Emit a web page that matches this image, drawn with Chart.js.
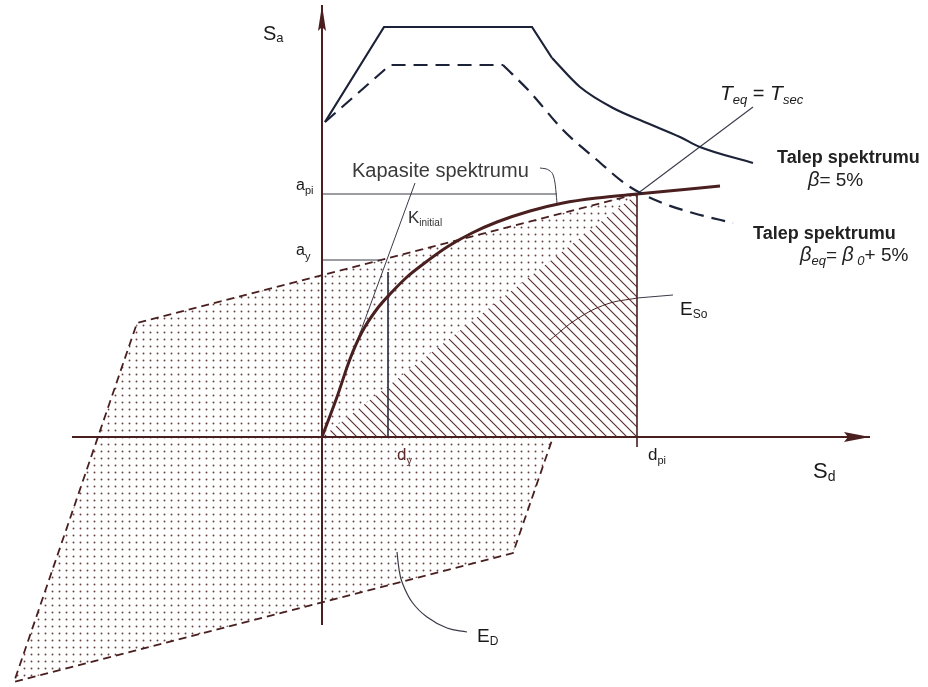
<!DOCTYPE html>
<html lang="tr">
<head>
<meta charset="UTF-8">
<title>Kapasite spektrumu</title>
<script src="https://cdn.jsdelivr.net/npm/chart.js"></script>
<style>
    html, body { margin: 0; padding: 0; background: #fff; }
    #wrap { width: 928px; height: 687px; }
</style>
</head>
<body>
<div id="wrap"><canvas id="spektrum"></canvas></div>
<script>
// Sd / Sa değerleri (birimsiz, şematik)
const talep5Sd = [0.03, 0.62, 2.10, 2.30];
const talep5Sa = [3.15, 4.10, 4.10, 3.79];
const talep5KuyrukSd = [2.30, 2.58, 2.91, 3.25, 3.58, 3.78, 4.31];
const talep5KuyrukSa = [3.79, 3.50, 3.29, 3.14, 3.00, 2.90, 2.74];

const talepEqSd = [0.03, 0.68, 1.81];
const talepEqSa = [3.15, 3.72, 3.72];
const talepEqKuyrukSd = [1.81, 2.08, 2.41, 2.75, 3.05, 3.38, 3.71, 4.11];
const talepEqKuyrukSa = [3.72, 3.45, 3.07, 2.77, 2.52, 2.35, 2.24, 2.14];

const kapasiteSd = [0, 0.15, 0.28, 0.40, 0.55, 0.70, 0.85, 1.00, 1.25, 1.50, 1.75, 2.08, 2.41, 2.75, 3.15, 3.98];
const kapasiteSa = [0, 0.40, 0.78, 1.05, 1.28, 1.45, 1.60, 1.72, 1.90, 2.04, 2.15, 2.26, 2.34, 2.39, 2.43, 2.51];

// performans noktası ve akma noktası
const dpi = 3.15, api = 2.43;
const dy = 0.66, ay = 1.77;

// histerezis çevrimi (E_D alanı)
const cevrimSd = [3.15, -1.85, -3.08, 1.91, 3.15];
const cevrimSa = [2.43, 1.14, -2.45, -1.16, 2.43];

// eksen uçları
const eksenX = [-2.50, 5.48];
const eksenY = [-1.88, 4.32];

const LACIVERT = '#1c2238';
const BORDO = '#4a1f1f';
const INCE = '#3a3a48';
const YAZI = '#1a1a1a';
const F = '"Liberation Sans"';

function noktalar(xs, ys) {
    return xs.map((x, i) => ({ x: x, y: ys[i] }));
}

function cizgi(xs, ys, renk, kalinlik, ek) {
    return Object.assign({
        data: noktalar(xs, ys),
        showLine: true,
        borderColor: renk,
        borderWidth: kalinlik,
        pointRadius: 0,
        fill: false,
        tension: 0,
        order: 0
    }, ek || {});
}

const egri = { tension: 0.4, cubicInterpolationMode: 'monotone' };

// nokta deseni
function noktaDeseni() {
    const c = document.createElement('canvas');
    c.width = 7; c.height = 7;
    const g = c.getContext('2d');
    g.fillStyle = 'rgba(85, 45, 45, 0.9)';
    g.beginPath();
    g.arc(3.5, 3.5, 0.95, 0, Math.PI * 2);
    g.fill();
    return g.createPattern(c, 'repeat');
}

// taralı desen (beyaz zemin, "\" yönünde)
function taramaDeseni() {
    const n = 10;
    const c = document.createElement('canvas');
    c.width = n; c.height = n;
    const g = c.getContext('2d');
    g.fillStyle = '#fff';
    g.fillRect(0, 0, n, n);
    g.strokeStyle = '#5a2a2a';
    g.lineWidth = 1.1;
    g.beginPath();
    g.moveTo(-1, -1); g.lineTo(n + 1, n + 1);
    g.moveTo(n - 1, -1); g.lineTo(n + 1, 1);
    g.moveTo(-1, n - 1); g.lineTo(1, n + 1);
    g.stroke();
    return g.createPattern(c, 'repeat');
}

// eksen okları
const oklar = {
    id: 'oklar',
    afterDatasetsDraw(chart) {
        const { ctx, scales: { x, y } } = chart;
        ctx.save();
        ctx.fillStyle = BORDO;
        const ux = x.getPixelForValue(eksenX[1]), uy = y.getPixelForValue(0);
        ctx.beginPath();
        ctx.moveTo(ux, uy);
        ctx.lineTo(ux - 26, uy - 5);
        ctx.lineTo(ux - 22, uy);
        ctx.lineTo(ux - 26, uy + 5);
        ctx.closePath();
        ctx.fill();
        const vx = x.getPixelForValue(0), vy = y.getPixelForValue(eksenY[1]);
        ctx.beginPath();
        ctx.moveTo(vx, vy);
        ctx.lineTo(vx - 4, vy + 26);
        ctx.lineTo(vx, vy + 22);
        ctx.lineTo(vx + 4, vy + 26);
        ctx.closePath();
        ctx.fill();
        ctx.restore();
    }
};

// etiketler: [metin, font, düşey kayma]
const etiketler = [
    { x: -0.59, y: 3.97, p: [['S', '20px ' + F, 0], ['a', '13px ' + F, 2]] },
    { x: 4.91, y: -0.41, p: [['S', '22px ' + F, 0], ['d', '14px ' + F, 3]] },
    { x: -0.26, y: 2.47, p: [['a', '16px ' + F, 0], ['pi', '11px ' + F, 4]] },
    { x: -0.26, y: 1.82, p: [['a', '16px ' + F, 0], ['y', '11px ' + F, 5]] },
    { x: 0.86, y: 2.14, p: [['K', '17px ' + F, 0], ['initial', '10px ' + F, 3]], renk: '#333' },
    { x: 0.30, y: 2.60, p: [['Kapasite spektrumu', '20px ' + F, 0]], renk: '#3a3a3a' },
    { x: 3.98, y: 3.37, p: [['T', 'italic 21px ' + F, 0], ['eq', 'italic 13px ' + F, 4], [' = ', '20px ' + F, 0], ['T', 'italic 21px ' + F, 0], ['sec', 'italic 13px ' + F, 4]] },
    { x: 4.55, y: 2.74, p: [['Talep spektrumu', 'bold 18px ' + F, 0]], renk: '#222' },
    { x: 4.86, y: 2.51, p: [['β', 'italic 20px ' + F, 0], ['= 5%', '19px ' + F, 0]], renk: '#222' },
    { x: 4.31, y: 1.98, p: [['Talep spektrumu', 'bold 18px ' + F, 0]], renk: '#222' },
    { x: 4.78, y: 1.76, p: [['β', 'italic 20px ' + F, 0], ['eq', 'italic 13px ' + F, 4], ['= ', '19px ' + F, 0], ['β', 'italic 20px ' + F, 0], [' 0', 'italic 13px ' + F, 4], ['+ 5%', '19px ' + F, 0]], renk: '#222' },
    { x: 3.58, y: 1.22, p: [['E', '19px ' + F, 0], ['So', '12px ' + F, 3]] },
    { x: 3.26, y: -0.23, p: [['d', '17px ' + F, 0], ['pi', '11px ' + F, 4]] },
    { x: 0.75, y: -0.23, p: [['d', '17px ' + F, 0], ['y', '11px ' + F, 4]], renk: '#5a2a2a' },
    { x: 1.55, y: -2.05, p: [['E', '19px ' + F, 0], ['D', '12px ' + F, 3]] }
];

const yazilar = {
    id: 'yazilar',
    afterDraw(chart) {
        const { ctx, scales: { x, y } } = chart;
        ctx.save();
        ctx.textBaseline = 'alphabetic';
        etiketler.forEach(e => {
            let px = x.getPixelForValue(e.x);
            const py = y.getPixelForValue(e.y);
            ctx.fillStyle = e.renk || YAZI;
            e.p.forEach(([t, f, k]) => {
                ctx.font = f;
                ctx.fillText(t, px, py + k);
                px += ctx.measureText(t).width;
            });
        });
        ctx.restore();
    }
};

const datasets = [
    // histerezis alanı
    cizgi(cevrimSd, cevrimSa, BORDO, 1.8, { borderDash: [8, 5], fill: 'shape', backgroundColor: noktaDeseni(), order: 10 }),
    // E_So üçgeni
    cizgi([0, dpi, dpi, 0], [0, api, 0, 0], 'rgba(0,0,0,0)', 0, { fill: 'shape', backgroundColor: taramaDeseni(), order: 9 }),

    // eksenler
    cizgi(eksenX, [0, 0], BORDO, 2),
    cizgi([0, 0], eksenY, BORDO, 2),

    // talep spektrumları
    cizgi(talep5Sd, talep5Sa, LACIVERT, 2.2),
    cizgi(talep5KuyrukSd, talep5KuyrukSa, LACIVERT, 2.2, egri),
    cizgi(talepEqSd, talepEqSa, LACIVERT, 2.2, { borderDash: [14, 8] }),
    cizgi(talepEqKuyrukSd, talepEqKuyrukSa, LACIVERT, 2.2, Object.assign({ borderDash: [14, 8] }, egri)),

    // kapasite spektrumu
    cizgi(kapasiteSd, kapasiteSa, BORDO, 3, egri),

    // yardımcı çizgiler
    cizgi([dpi, dpi], [api, -0.10], BORDO, 1.6),
    cizgi([0, 2.35], [api, api], INCE, 1),
    cizgi([0, 0.60], [ay, ay], INCE, 1),
    cizgi([dy, dy], [1.65, 0], INCE, 1),
    cizgi([0, 0.93], [0, 2.54], INCE, 1),
    cizgi([dpi, 4.31], [api, 3.30], INCE, 1.1),

    // etiket okları
    cizgi([2.18, 2.28, 2.33, 2.35], [2.69, 2.66, 2.54, 2.34], INCE, 1, egri),
    cizgi([2.28, 2.55, 2.85, 3.15], [0.97, 1.18, 1.33, 1.39], BORDO, 1, { tension: 0.4 }),
    cizgi([3.15, 3.51], [1.39, 1.42], INCE, 1),
    cizgi([0.75, 0.77, 0.80, 0.90, 1.05, 1.25, 1.45], [-1.15, -1.32, -1.45, -1.65, -1.80, -1.91, -1.95], INCE, 1.2, { tension: 0.4 })
];

new Chart(document.getElementById('spektrum'), {
    type: 'scatter',
    data: { datasets: datasets },
    options: {
        responsive: true,
        maintainAspectRatio: false,
        animation: false,
        layout: { padding: 0 },
        scales: {
            x: { type: 'linear', min: -3.22, max: 6.06, display: false },
            y: { type: 'linear', min: -2.50, max: 4.37, display: false }
        },
        plugins: {
            legend: { display: false },
            tooltip: { enabled: false }
        }
    },
    plugins: [oklar, yazilar]
});
</script>
</body>
</html>
